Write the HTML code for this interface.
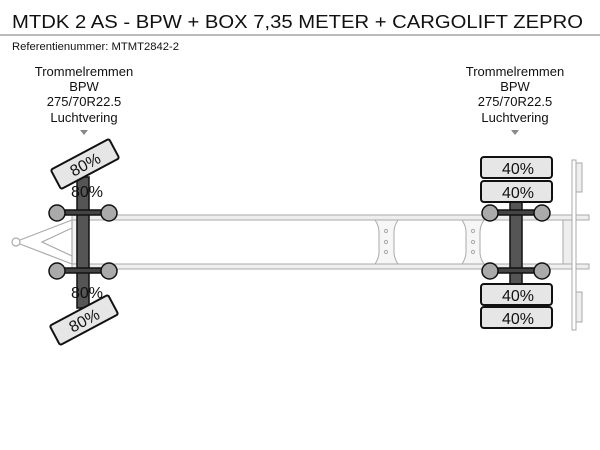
<!DOCTYPE html>
<html><head><meta charset="utf-8"><style>html,body{margin:0;padding:0;background:#fff}svg{display:block}</style></head>
<body>
<svg width="600" height="450" viewBox="0 0 600 450" xmlns="http://www.w3.org/2000/svg" font-family="Liberation Sans, sans-serif">
<text x="12" y="28" font-size="18.5" fill="#111" textLength="571" lengthAdjust="spacingAndGlyphs">MTDK 2 AS - BPW + BOX 7,35 METER + CARGOLIFT ZEPRO</text>
<line x1="0" y1="35" x2="600" y2="35" stroke="#777" stroke-width="1"/>
<text x="12" y="50" font-size="11" fill="#111" textLength="167" lengthAdjust="spacingAndGlyphs">Referentienummer: MTMT2842-2</text>
<g font-size="13" fill="#111" text-anchor="middle">
<text x="84" y="76">Trommelremmen</text><text x="84" y="91">BPW</text><text x="84" y="106">275/70R22.5</text><text x="84" y="122">Luchtvering</text>
<text x="515" y="76">Trommelremmen</text><text x="515" y="91">BPW</text><text x="515" y="106">275/70R22.5</text><text x="515" y="122">Luchtvering</text>
</g>
<polygon points="80,130 88,130 84,135" fill="#888"/>
<polygon points="511,130 519,130 515,135" fill="#888"/>
<!-- drawbar -->
<g fill="none" stroke="#aaa" stroke-width="1.2">
<circle cx="16" cy="242" r="4"/>
<polyline points="20,240 72,220"/><polyline points="20,244 72,264"/>
<polyline points="72,228 42,242 72,256"/>
<rect x="72" y="220" width="5" height="44" fill="#f2f2f2"/>
</g>
<!-- rails -->
<rect x="72" y="215" width="517" height="5" fill="#eee" stroke="#aaa" stroke-width="1"/>
<rect x="72" y="264" width="517" height="5" fill="#eee" stroke="#aaa" stroke-width="1"/>
<!-- cross members -->
<g fill="#f6f6f6" stroke="#aaa" stroke-width="1">
<path d="M375,220 Q379,226 379,232 L379,252 Q379,258 375,264 L398,264 Q394,258 394,252 L394,232 Q394,226 398,220 Z"/>
<path d="M462,220 Q466,226 466,232 L466,252 Q466,258 462,264 L484,264 Q480,258 480,252 L480,232 Q480,226 484,220 Z"/>
<circle cx="386" cy="231" r="1.6"/><circle cx="386" cy="242" r="1.6"/><circle cx="386" cy="252" r="1.6"/>
<circle cx="473" cy="231" r="1.6"/><circle cx="473" cy="242" r="1.6"/><circle cx="473" cy="252" r="1.6"/>
<rect x="563" y="220" width="12" height="44" fill="#eee"/>
<rect x="572" y="160" width="4" height="170" fill="#fff"/>
<rect x="576" y="163" width="6" height="29" fill="#eee"/>
<rect x="576" y="292" width="6" height="30" fill="#eee"/>
</g>
<!-- left axle -->
<rect x="77" y="177" width="12" height="131" fill="#555" stroke="#111" stroke-width="1.5"/>
<g stroke="#111" stroke-width="1.5">
<rect x="57" y="210" width="52" height="5" fill="#444"/>
<rect x="57" y="268" width="52" height="5" fill="#444"/>
<g fill="#aaa"><circle cx="57" cy="213" r="8"/><circle cx="109" cy="213" r="8"/><circle cx="57" cy="271" r="8"/><circle cx="109" cy="271" r="8"/></g>
</g>
<g font-size="16" fill="#111" text-anchor="middle">
<g transform="translate(85,164) rotate(-28)"><rect x="-33" y="-11" width="66" height="22" rx="2" fill="#e6e6e6" stroke="#111" stroke-width="2"/><text x="0" y="6">80%</text></g>
<text x="87" y="197">80%</text>
<text x="87" y="298">80%</text>
<g transform="translate(84,320) rotate(-28)"><rect x="-33" y="-11" width="66" height="22" rx="2" fill="#e6e6e6" stroke="#111" stroke-width="2"/><text x="0" y="6">80%</text></g>
</g>
<!-- right axle -->
<rect x="510" y="200" width="12" height="84" fill="#555" stroke="#111" stroke-width="1.5"/>
<g stroke="#111" stroke-width="1.5">
<rect x="490" y="210" width="52" height="5" fill="#444"/>
<rect x="490" y="268" width="52" height="5" fill="#444"/>
<g fill="#aaa"><circle cx="490" cy="213" r="8"/><circle cx="542" cy="213" r="8"/><circle cx="490" cy="271" r="8"/><circle cx="542" cy="271" r="8"/></g>
</g>
<g font-size="16" fill="#111" text-anchor="middle">
<g fill="#e6e6e6" stroke="#111" stroke-width="2">
<rect x="481" y="157" width="71" height="21" rx="3"/><rect x="481" y="181" width="71" height="21" rx="3"/>
<rect x="481" y="284" width="71" height="21" rx="3"/><rect x="481" y="307" width="71" height="21" rx="3"/>
</g>
<text x="518" y="174">40%</text><text x="518" y="198">40%</text>
<text x="518" y="301">40%</text><text x="518" y="324">40%</text>
</g>
</svg>
</body></html>
